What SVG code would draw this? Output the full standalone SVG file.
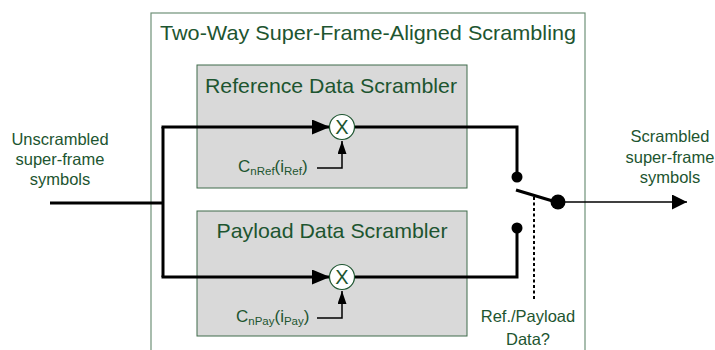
<svg xmlns="http://www.w3.org/2000/svg" width="715" height="350" viewBox="0 0 715 350">
<style>
  text { font-family: "Liberation Sans", Arial, sans-serif; fill: #1d5530; }
  .title { font-size: 21px; text-anchor: middle; }
  .lbl { font-size: 16.5px; text-anchor: middle; }
  .ctl { font-size: 17px; }
  .sub { font-size: 11.5px; }
  .box { fill: #d9d9d9; stroke: #3f6b4a; stroke-width: 1; }
  .outer { fill: #ffffff; stroke: #6f9178; stroke-width: 1.2; }
  .wire { fill: none; stroke: #000; stroke-width: 3; stroke-linejoin: miter; }
  .thin { fill: none; stroke: #000; stroke-width: 1.5; }
  .mult { fill: #ffffff; stroke: #1d5530; stroke-width: 1.2; }
</style>
<defs>
  <marker id="bigArrow" viewBox="0 0 18 15" refX="17" refY="7.5" markerWidth="18" markerHeight="15" markerUnits="userSpaceOnUse" orient="auto">
    <path d="M0,0 L18,7.5 L0,15 z" fill="#000"/>
  </marker>
  <marker id="outArrow" viewBox="0 0 15 15" refX="15" refY="7.5" markerWidth="15" markerHeight="15" markerUnits="userSpaceOnUse" orient="auto">
    <path d="M0,0 L15,7.5 L0,15 z" fill="#000"/>
  </marker>
  <marker id="smallArrow" viewBox="0 0 13 9" refX="13" refY="4.5" markerWidth="13" markerHeight="9" markerUnits="userSpaceOnUse" orient="auto">
    <path d="M0,0 L13,4.5 L0,9 z" fill="#000"/>
  </marker>
</defs>

<g id="outer-block">
  <rect class="outer" x="151" y="13" width="434" height="350"/>
  <text class="title" x="368" y="40" textLength="416" lengthAdjust="spacingAndGlyphs">Two-Way Super-Frame-Aligned Scrambling</text>
</g>

<g id="ref-scrambler">
  <rect class="box" x="197" y="65" width="270" height="123"/>
  <text class="title" x="331" y="93" textLength="252" lengthAdjust="spacingAndGlyphs">Reference Data Scrambler</text>
</g>

<g id="pay-scrambler">
  <rect class="box" x="197" y="211" width="270" height="125"/>
  <text class="title" x="332" y="238" textLength="231" lengthAdjust="spacingAndGlyphs">Payload Data Scrambler</text>
</g>

<g id="connectors">
  <!-- input -->
  <polyline class="wire" points="50,203 163,203"/>
  <polyline class="wire" points="163,127 163,277"/>
  <!-- to multipliers -->
  <line class="wire" x1="161.5" y1="127" x2="329" y2="127" marker-end="url(#bigArrow)"/>
  <line class="wire" x1="161.5" y1="277" x2="329" y2="277" marker-end="url(#bigArrow)"/>
  <!-- multiplier outputs to switch contacts -->
  <polyline class="wire" points="355,127 517,127 517,177"/>
  <polyline class="wire" points="355,277 517,277 517,228"/>
  <!-- control inputs -->
  <polyline class="thin" points="317,168 342,168 342,141" marker-end="url(#smallArrow)"/>
  <polyline class="thin" points="317,318 342,318 342,291" marker-end="url(#smallArrow)"/>
  <!-- switch -->
  <line class="wire" x1="516" y1="190" x2="556" y2="202"/>
  <line x1="534" y1="197" x2="534" y2="300" stroke="#000" stroke-width="2" stroke-dasharray="3,2.5"/>
  <line class="thin" x1="558" y1="202" x2="687" y2="202" stroke-width="2" marker-end="url(#outArrow)"/>
</g>

<g id="switch-contacts">
  <circle cx="517" cy="177" r="5.5" fill="#000"/>
  <circle cx="517" cy="228" r="5.5" fill="#000"/>
  <circle cx="558" cy="202" r="7.5" fill="#000"/>
</g>

<g id="mult-ref">
  <circle class="mult" cx="342" cy="127" r="12.5"/>
  <text x="342" y="134" style="font-size:20px;text-anchor:middle">X</text>
</g>

<g id="mult-pay">
  <circle class="mult" cx="342" cy="277" r="12.5"/>
  <text x="342" y="284" style="font-size:20px;text-anchor:middle">X</text>
</g>

<g id="ctl-ref">
  <text class="ctl" x="238" y="172">C<tspan class="sub" dy="3">nRef</tspan><tspan dy="-3">(i</tspan><tspan class="sub" dy="3">Ref</tspan><tspan dy="-3">)</tspan></text>
</g>

<g id="ctl-pay">
  <text class="ctl" x="236" y="322">C<tspan class="sub" dy="3">nPay</tspan><tspan dy="-3">(i</tspan><tspan class="sub" dy="3">Pay</tspan><tspan dy="-3">)</tspan></text>
</g>

<g id="input-label">
  <text class="lbl" x="60" y="145">Unscrambled</text>
  <text class="lbl" x="60" y="165">super-frame</text>
  <text class="lbl" x="60" y="185">symbols</text>
</g>

<g id="output-label">
  <text class="lbl" x="670" y="142">Scrambled</text>
  <text class="lbl" x="670" y="163">super-frame</text>
  <text class="lbl" x="670" y="183">symbols</text>
</g>

<g id="select-label">
  <text class="lbl" x="528" y="322">Ref./Payload</text>
  <text class="lbl" x="528" y="345">Data?</text>
</g>
</svg>
